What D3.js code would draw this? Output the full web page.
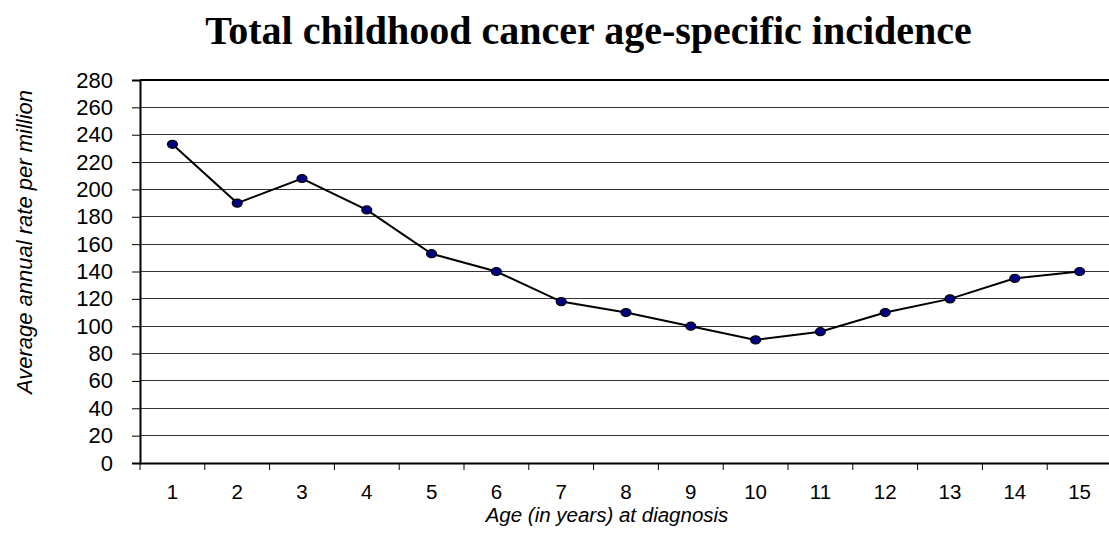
<!DOCTYPE html>
<html><head><meta charset="utf-8">
<script src="https://cdn.jsdelivr.net/npm/d3@7"></script>
<style>body{margin:0;background:#fff}svg{display:block}</style>
</head><body>
<svg id="c" width="1109" height="535"></svg>
<script>
const ages = ["1","2","3","4","5","6","7","8","9","10","11","12","13","14","15"];
const rates = [233,190,208,185,153,140,118,110,100,90,96,110,120,135,140];
const yTicks = [0,20,40,60,80,100,120,140,160,180,200,220,240,260,280];
const title = "Total childhood cancer age-specific incidence";
const xTitle = "Age (in years) at diagnosis";
const yTitle = "Average annual rate per million";

const svg = d3.select("#c");
const L = 140, T = 80, B = 463, W = 64.8;
const R = L + W * ages.length;
const sans = "Liberation Sans, Arial, sans-serif";
const x = d3.scaleBand().domain(ages).range([L, R]);
const y = d3.scaleLinear().domain([0, 280]).range([B, T]);

// gridlines
svg.append("g").selectAll("line").data(yTicks.filter(d => d > 0 && d < 280)).join("line")
  .attr("x1", L).attr("x2", R).attr("y1", d => y(d)).attr("y2", d => y(d))
  .attr("stroke", "#333").attr("stroke-width", 1).attr("shape-rendering", "crispEdges");
// top border
svg.append("line").attr("x1", L).attr("x2", R).attr("y1", y(280)).attr("y2", y(280))
  .attr("stroke", "#000").attr("stroke-width", 2);

// y axis
const ya = svg.append("g").attr("transform", `translate(${L},0)`)
  .call(d3.axisLeft(y).tickValues(yTicks).tickSize(8).tickPadding(19).tickFormat(d3.format("d")));
ya.select(".domain").attr("stroke", "#000").attr("stroke-width", 2);
ya.selectAll(".tick line").attr("stroke", "#000").attr("stroke-width", 1);
ya.selectAll("text").attr("font-family", sans).attr("font-size", 22).attr("fill", "#000");

// x axis
const xa = svg.append("g").attr("transform", `translate(0,${B})`)
  .call(d3.axisBottom(x).tickSize(0).tickPadding(21));
xa.select(".domain").attr("stroke", "#000").attr("stroke-width", 2);
xa.selectAll("text").attr("font-family", sans).attr("font-size", 20.5).attr("fill", "#000");
// tick marks at category boundaries
svg.append("g").selectAll("line").data(ages).join("line")
  .attr("x1", d => x(d)).attr("x2", d => x(d)).attr("y1", B).attr("y2", B + 7)
  .attr("stroke", "#000").attr("stroke-width", 1);

// line
const pts = ages.map((a, i) => [x(a) + x.bandwidth() / 2, y(rates[i])]);
svg.append("path").attr("d", d3.line()(pts)).attr("fill", "none")
  .attr("stroke", "#000").attr("stroke-width", 2);
svg.append("g").selectAll("ellipse").data(pts).join("ellipse")
  .attr("cx", d => d[0]).attr("cy", d => d[1]).attr("rx", 5).attr("ry", 4)
  .attr("fill", "#000080").attr("stroke", "#000").attr("stroke-width", 1.2);

// titles
svg.append("text").attr("x", 588.5).attr("y", 44).attr("text-anchor", "middle")
  .attr("font-family", "Liberation Serif, Times New Roman, serif").attr("font-weight", "bold")
  .attr("font-size", 40).text(title);
svg.append("text").attr("x", 607).attr("y", 522).attr("text-anchor", "middle")
  .attr("font-family", sans).attr("font-style", "italic")
  .attr("font-size", 20.5).text(xTitle);
svg.append("text").attr("transform", "translate(32,242) rotate(-90)").attr("text-anchor", "middle")
  .attr("font-family", sans).attr("font-style", "italic")
  .attr("font-size", 22).text(yTitle);
</script>
</body></html>
